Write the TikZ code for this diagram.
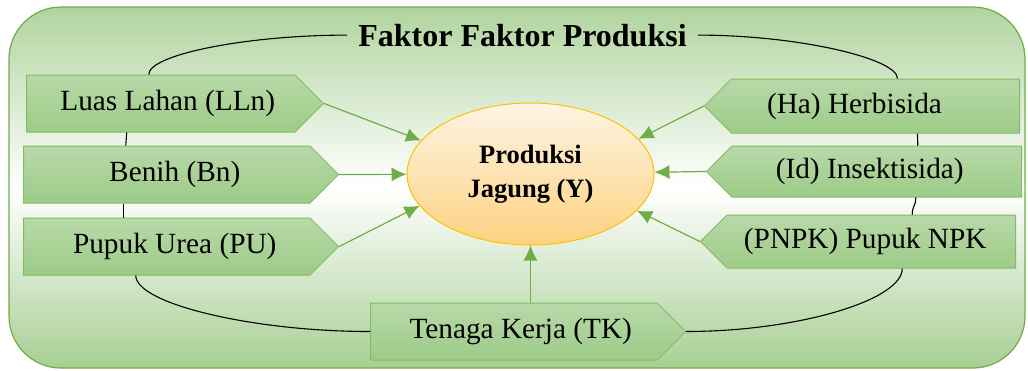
\documentclass[tikz,border=0pt]{standalone}
\usepackage{fontspec}
\setmainfont{Liberation Serif}
\usetikzlibrary{positioning}
\usetikzlibrary{shapes.symbols, shapes.geometric, arrows.meta}
\definecolor{frametop}{RGB}{176,212,158}
\definecolor{framebot}{RGB}{168,207,148}
\definecolor{boxtop}{RGB}{184,217,168}
\definecolor{boxbot}{RGB}{157,203,136}
\definecolor{boxline}{RGB}{128,188,98}
\definecolor{arrowgreen}{RGB}{112,173,71}
\definecolor{ovaltop}{RGB}{253,244,228}
\definecolor{ovalbot}{RGB}{253,210,128}
\definecolor{ovalline}{RGB}{255,192,0}
\tikzset{factor/.style={signal, signal pointer angle=90, draw=boxline, line width=1pt,
    top color=boxtop, bottom color=boxbot, minimum height=57pt, minimum width=315pt,
    inner sep=0pt, font=\fontsize{29.3}{34}\selectfont},
  toY/.style={draw=arrowgreen, line width=1.2pt, -{Latex[length=15pt,width=14pt]}},
  link/.style={draw=black, line width=1.1pt}}

\begin{document}
\begin{tikzpicture}[x=1pt, y=-1pt]
    \useasboundingbox (0,0) rectangle (1028,370);
    % frame
    \draw[arrowgreen, line width=1.2pt, rounded corners=52pt, top color=frametop,
        bottom color=framebot, middle color=white] (9,7) rectangle (1025,368);
    \node[inner xsep=11pt, font=\fontsize{32}{38}\selectfont\bfseries, anchor=base]
        (title) at (522.5,46) {Faktor Faktor Produksi};
    % produksi
    \node[ellipse, draw=ovalline, line width=1pt, top color=ovaltop, bottom color=ovalbot,
        minimum width=247pt, minimum height=142pt, inner sep=0pt, align=center,
        font=\fontsize{26.5}{34}\selectfont\bfseries] (Y) at (530.5,174) {Produksi\\Jagung (Y)};
    % faktor kiri
    \node[factor, signal to=east, anchor=west, minimum width=297pt] (LLn) at (26,103.5) {\hspace*{14pt}Luas Lahan (LLn)};
    \node[factor, signal to=east, anchor=west] (Bn) at (23,174.5) {\hspace*{16pt}Benih (Bn)};
    \node[factor, signal to=east, anchor=west] (PU) at (23,246.5) {\hspace*{16pt}Pupuk Urea (PU)};
    % faktor kanan
    \node[factor, signal to=west, anchor=east, minimum height=54pt] (Ha) at (1020,106) {(Ha) Herbisida\hspace*{42pt}};
    \node[factor, signal to=west, anchor=east, minimum height=51pt] (Id) at (1022,171.5) {(Id) Insektisida)\hspace*{14pt}};
    \node[factor, signal to=west, anchor=east, minimum height=53pt] (NPK) at (1016,241.5) {(PNPK) Pupuk NPK\hspace*{12pt}};
    \node[factor, signal to=east, anchor=west] (TK) at (370,331.5) {\hspace*{14pt}Tenaga Kerja (TK)};
    % panah ke Y
    \draw[toY] (LLn.east) -- (Y.163);
    \draw[toY] (Bn.east) -- (Y);
    \draw[toY] (PU.east) -- (Y.196);
    \draw[toY] (Ha.west) -- (Y.18);
    \draw[toY] (Id.west) -- (Y);
    \draw[toY] (NPK.west) -- (Y.341);
    \draw[toY] (TK.north -| Y) -- (Y.south);
    % garis hubung
    \draw[link] (title.west) .. controls +(-100,0) and +(0,-20) .. ([xshift=-12pt]LLn.north);
    \draw[link] (title.east) .. controls +(100,0) and +(0,-20) .. ([xshift=22pt]Ha.north);
    \draw[link] ([xshift=-34pt]LLn.south) .. controls +(0,7) and +(0,-7) .. ([xshift=-41pt]Bn.north);
    \draw[link] ([xshift=-43pt]Bn.south) .. controls +(0,7) and +(0,-7) .. ([xshift=-43pt]PU.north);
    \draw[link] ([xshift=-31pt]PU.south) .. controls +(0,28) and +(-118,0) .. (TK.west);
    \draw[link] ([xshift=42pt]Ha.south) .. controls +(0,7) and +(0,-7) .. ([xshift=41pt]Id.north);
    \draw[link] ([xshift=39pt]Id.south) .. controls +(0,9) and +(0,-9) .. ([xshift=41pt]NPK.north);
    \draw[link] ([xshift=31pt]NPK.south) .. controls +(0,32) and +(110,0) .. (TK.east);
\end{tikzpicture}
\end{document}
